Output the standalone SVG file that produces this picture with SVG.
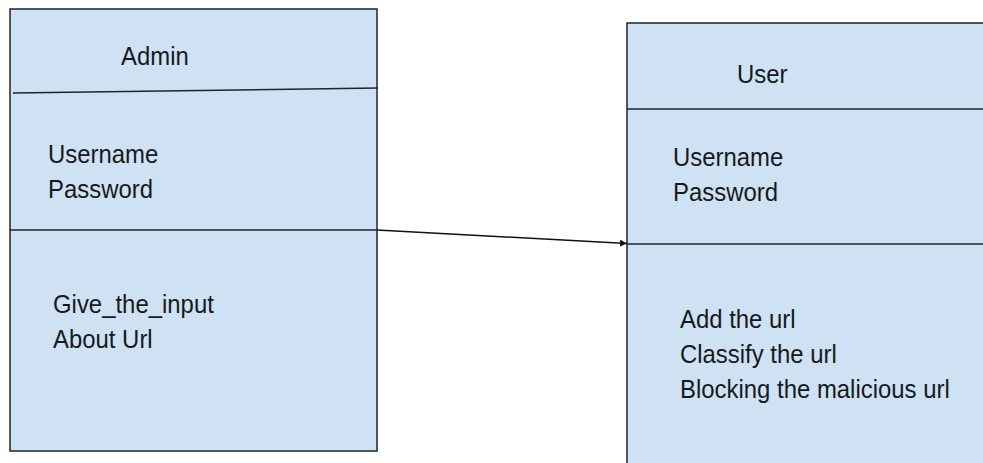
<svg xmlns="http://www.w3.org/2000/svg" width="983" height="463" viewBox="0 0 983 463">
<style>
.box{fill:#cfe2f3;stroke:#1c2530;stroke-width:1.5}
.div{stroke:#1c2530;stroke-width:1.5;fill:none}
.t{font-family:"Liberation Sans",Arial,sans-serif;font-size:26px;fill:#151a20}
.conn{stroke:#111;stroke-width:1.5;fill:none}
</style>
<defs>
<marker id="ah" viewBox="0 0 10 10" refX="10" refY="5" markerWidth="7" markerHeight="7" markerUnits="userSpaceOnUse" orient="auto">
<path d="M0,0 L10,5 L0,10 z" fill="#111"/>
</marker>
</defs>
<rect width="983" height="463" fill="#ffffff"/>
<g id="admin">
<rect class="box" x="10" y="9" width="367" height="442"/>
<line class="div" x1="13" y1="93" x2="378" y2="88"/>
<line class="div" x1="10" y1="230" x2="377" y2="230"/>
<text class="t" transform="translate(121,65) scale(0.92,1)">Admin</text>
<text class="t" transform="translate(48,163) scale(0.92,1)">Username</text>
<text class="t" transform="translate(48,198) scale(0.92,1)">Password</text>
<text class="t" transform="translate(53,313) scale(0.92,1)">Give_the_input</text>
<text class="t" transform="translate(53,348) scale(0.92,1)">About Url</text>
</g>
<g id="user">
<rect class="box" x="627" y="23" width="370" height="450"/>
<line class="div" x1="627" y1="109" x2="983" y2="109"/>
<line class="div" x1="627" y1="244" x2="983" y2="244"/>
<text class="t" transform="translate(737,83) scale(0.92,1)">User</text>
<text class="t" transform="translate(673,166) scale(0.92,1)">Username</text>
<text class="t" transform="translate(673,201) scale(0.92,1)">Password</text>
<text class="t" transform="translate(680,328) scale(0.92,1)">Add the url</text>
<text class="t" transform="translate(680,363) scale(0.92,1)">Classify the url</text>
<text class="t" transform="translate(680,398) scale(0.92,1)">Blocking the malicious url</text>
</g>
<g id="connectors">
<line class="conn" x1="377" y1="230" x2="627" y2="243.5" marker-end="url(#ah)"/>
</g>
</svg>
